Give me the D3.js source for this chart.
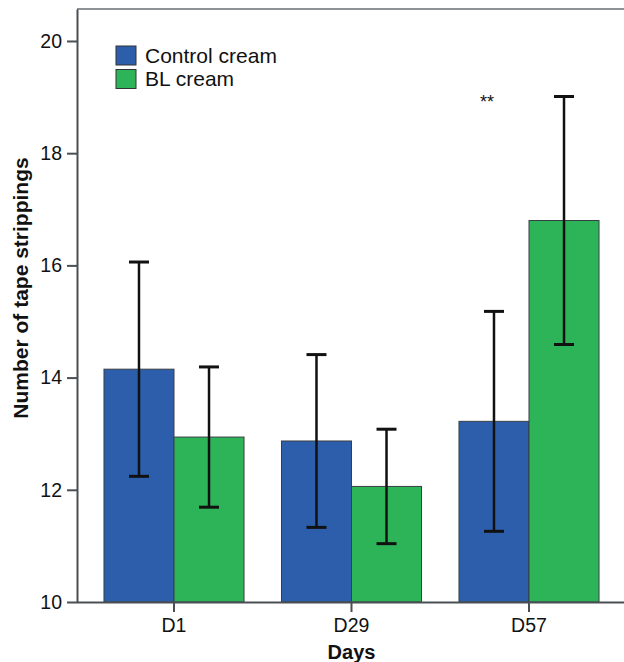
<!DOCTYPE html>
<html>
<head>
<meta charset="utf-8">
<script src="https://cdn.jsdelivr.net/npm/d3@7"></script>
<style>
  body { margin: 0; background: #fff; }
  text { font-family: "Liberation Sans", Arial, Helvetica, sans-serif; }
</style>
</head>
<body>
<script>
// data
const days = ["D1", "D29", "D57"];
const series = ["Control cream", "BL cream"];
const controlMean = [14.15, 12.87, 13.22];
const controlErr = [1.91, 1.54, 1.96];
const blMean = [12.94, 12.06, 16.80];
const blErr = [1.25, 1.02, 2.21];
const yTicks = [10, 12, 14, 16, 18, 20];
const colors = ["#2c5eab", "#2db459"];

const width = 624, height = 662;
const plotLeft = 77, plotBottom = 602, plotTop = 9;

const svg = d3.select("body").append("svg")
    .attr("width", width)
    .attr("height", height);

const x = d3.scaleBand()
    .domain(days)
    .range([plotLeft, 626])
    .paddingInner(0.211)
    .paddingOuter(0.152);

const xSeries = d3.scaleBand()
    .domain(series)
    .range([0, x.bandwidth()]);

const y = d3.scaleLinear()
    .domain([10, 20.57])
    .range([plotBottom, plotTop]);

const rows = [];
days.forEach(function (d, i) {
    rows.push({day: d, s: series[0], mean: controlMean[i], err: controlErr[i]});
    rows.push({day: d, s: series[1], mean: blMean[i], err: blErr[i]});
});

// top frame line
svg.append("line")
    .attr("x1", plotLeft).attr("x2", width)
    .attr("y1", plotTop).attr("y2", plotTop)
    .attr("stroke", "#8c9296")
    .attr("stroke-width", 2);

// bars
svg.selectAll("rect.bar")
    .data(rows)
    .enter().append("rect")
    .attr("class", "bar")
    .attr("x", d => x(d.day) + xSeries(d.s))
    .attr("width", xSeries.bandwidth())
    .attr("y", d => y(d.mean))
    .attr("height", d => y(10) - y(d.mean))
    .attr("fill", (d, i) => colors[i % 2])
    .attr("stroke", "#3a3f44")
    .attr("stroke-width", 1);

// error bars
const eb = svg.selectAll("g.err")
    .data(rows)
    .enter().append("g")
    .attr("class", "err")
    .attr("transform", d => `translate(${x(d.day) + xSeries(d.s) + xSeries.bandwidth() / 2},0)`);

eb.append("line")
    .attr("y1", d => y(d.mean - d.err))
    .attr("y2", d => y(d.mean + d.err))
    .attr("stroke", "#111")
    .attr("stroke-width", 2.5);

eb.selectAll("line.cap")
    .data(d => [d.mean - d.err, d.mean + d.err])
    .enter().append("line")
    .attr("class", "cap")
    .attr("x1", -10).attr("x2", 10)
    .attr("y1", v => y(v)).attr("y2", v => y(v))
    .attr("stroke", "#111")
    .attr("stroke-width", 3);

// axes
const yAxis = svg.append("g")
    .attr("transform", `translate(${plotLeft},0)`)
    .call(d3.axisLeft(y).tickValues(yTicks).tickSize(10).tickPadding(5).tickSizeOuter(0));

const xAxis = svg.append("g")
    .attr("transform", `translate(0,${plotBottom})`)
    .call(d3.axisBottom(x).tickSize(10).tickPadding(6).tickSizeOuter(0));

xAxis.select(".domain").attr("d", `M${plotLeft},0.5H${width}`);

[yAxis, xAxis].forEach(function (g) {
    g.select(".domain").attr("stroke", "#4a4f53").attr("stroke-width", 2);
    g.selectAll(".tick line").attr("stroke", "#4a4f53").attr("stroke-width", 2);
    g.selectAll(".tick text").attr("fill", "#111").style("font-size", "19.5px")
        .style("font-family", "'Liberation Sans', Arial, sans-serif");
});

// axis titles
svg.append("text")
    .attr("x", x("D29") + x.bandwidth() / 2)
    .attr("y", 659)
    .attr("text-anchor", "middle")
    .style("font-size", "20px")
    .style("font-weight", "bold")
    .attr("fill", "#111")
    .text("Days");

svg.append("text")
    .attr("transform", "translate(28,288) rotate(-90)")
    .attr("text-anchor", "middle")
    .style("font-size", "21px")
    .style("font-weight", "bold")
    .attr("fill", "#111")
    .text("Number of tape strippings");

// legend
const legend = svg.append("g").attr("transform", "translate(116,46)");
series.forEach(function (s, i) {
    legend.append("rect")
        .attr("x", 0).attr("y", i * 23.5)
        .attr("width", 20).attr("height", 19)
        .attr("fill", colors[i])
        .attr("stroke", "#333")
        .attr("stroke-width", 1);
    legend.append("text")
        .attr("x", 29).attr("y", i * 23.5 + 16.5)
        .style("font-size", "21px")
        .attr("fill", "#111")
        .text(s);
});

// significance mark
svg.append("text")
    .attr("x", x("D57") + xSeries.bandwidth() * 0.4)
    .attr("y", 108)
    .attr("text-anchor", "middle")
    .style("font-size", "18px")
    .attr("fill", "#111")
    .text("**");
</script>
</body>
</html>
